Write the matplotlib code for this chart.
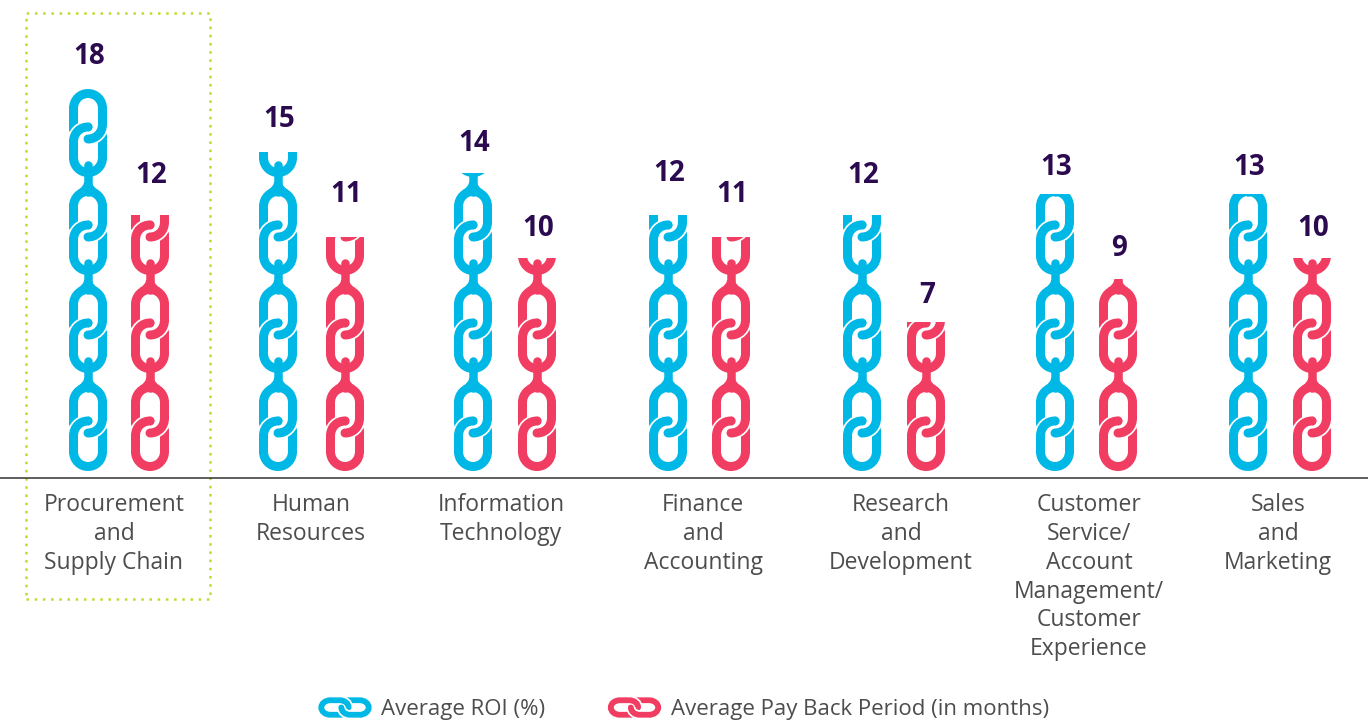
import matplotlib
matplotlib.use('Agg')
import matplotlib.pyplot as plt
import numpy as np
from matplotlib.path import Path
from matplotlib.patches import PathPatch, Rectangle

plt.rcParams['font.family'] = ['Open Sans', 'DejaVu Sans']

categories = ['Procurement\nand\nSupply Chain', 'Human\nResources', 'Information\nTechnology',
              'Finance\nand\nAccounting', 'Research\nand\nDevelopment',
              'Customer\nService/\nAccount\nManagement/\nCustomer\nExperience', 'Sales\nand\nMarketing']
avg_roi = [18, 15, 14, 12, 12, 13, 13]
avg_payback = [12, 11, 10, 11, 7, 9, 10]

BLUE = '#00b8e6'
RED = '#f23d63'
PURPLE = '#2b0a50'
GREY = '#4d4d4d'

# layout, all in pixels of the 1368x720 picture
blue_x = [88, 278, 473, 668, 862, 1055, 1248]
red_x = [150, 345, 537, 731, 926, 1118, 1312]
label_x = [114, 311, 501, 703, 901, 1089, 1278]
blue_gap = [31, 32, 29, 42, 40, 27, 27]
red_gap = [40, 42, 29, 42, 26, 31, 29]
base_px = 471
px_per_unit = 21.3
link_step = 98

# half a link, the other half is the same turned by 180 degrees
half_verts = np.array([(-14.5, -3), (-14.5, -24.5), (-14.5, -33), (-8, -39.5), (0, -39.5),
                       (8, -39.5), (14.5, -33), (14.5, -24.5), (14.5, -9),
                       (14.5, 0), (8, 6), (0, 6)], dtype=float)
half_codes = [Path.MOVETO, Path.LINETO, Path.CURVE4, Path.CURVE4, Path.CURVE4,
              Path.CURVE4, Path.CURVE4, Path.CURVE4, Path.LINETO,
              Path.CURVE4, Path.CURVE4, Path.CURVE4]
hook_verts = half_verts[7:]
hook_codes = [Path.MOVETO] + half_codes[8:]

# the bell where the neck meets the top of the link below
flare_verts = np.array([(-4, -49), (-4, -45), (-10, -41), (10, -41), (4, -45), (4, -49), (-4, -49)], dtype=float)
flare_codes = [Path.MOVETO, Path.CURVE3, Path.CURVE3, Path.LINETO, Path.CURVE3, Path.CURVE3, Path.CLOSEPOLY]


def to_val(py):
    return (base_px - py) / px_per_unit


def stroke(ax, verts, codes, color, lw, clip=None, halo=True, cap='round'):
    if halo:
        under = PathPatch(Path(verts, codes), fill=False, ec='white', lw=(lw + 3.4) * 0.72, capstyle='butt', zorder=3)
        ax.add_patch(under)
        if clip is not None:
            under.set_clip_path(clip)
    p = PathPatch(Path(verts, codes), fill=False, ec=color, lw=lw * 0.72, capstyle=cap, zorder=3)
    ax.add_patch(p)
    if clip is not None:
        p.set_clip_path(clip)


def draw_link(ax, place, color, lw=9, clip=None):
    # place turns local pixel offsets into data coordinates
    stroke(ax, place(-half_verts), half_codes, color, lw, clip)
    stroke(ax, place(half_verts), half_codes, color, lw, clip)
    stroke(ax, place(-hook_verts), hook_codes, color, lw, clip)


def draw_chain(ax, bar, xc, color):
    for i in range(4):
        cy = 44 + link_step * i

        def place(v, cy=cy):
            return np.column_stack([xc + v[:, 0], (cy - v[:, 1]) / px_per_unit])
        draw_link(ax, place, color, clip=bar)
    # necks go on top of every link, the round end sits inside the upper link
    for i in range(3):
        cy = 44 + link_step * i

        def place(v, cy=cy):
            return np.column_stack([xc + v[:, 0], (cy - v[:, 1]) / px_per_unit])
        neck = place(np.array([(0, -39.5), (0, -link_step + 32.0)]))
        stroke(ax, neck, [Path.MOVETO, Path.LINETO], color, 8.5, clip=bar, halo=False)
        bell = PathPatch(Path(place(flare_verts), flare_codes), fc=color, ec='none', zorder=3)
        ax.add_patch(bell)
        bell.set_clip_path(bar)


fig = plt.figure(figsize=(13.68, 7.2), dpi=100)
ax = fig.add_axes([0, 0, 1, 1])
ax.set_xlim(0, 1368)
ax.set_ylim(to_val(720), to_val(0))
ax.axis('off')

for xs, vals, gaps, color in [(blue_x, avg_roi, blue_gap, BLUE), (red_x, avg_payback, red_gap, RED)]:
    bars = ax.bar(xs, vals, width=46, bottom=0, facecolor='none', edgecolor='none')
    for bar, xc, v, gap in zip(bars, xs, vals, gaps):
        draw_chain(ax, bar, xc, color)
        ax.text(xc + 1, v + gap / px_per_unit, str(v), ha='center', va='center', fontsize=20,
                fontweight='bold', color=PURPLE)

# baseline
ax.plot([0, 1368], [to_val(477.5)] * 2, color='#333333', lw=1.1, zorder=2)

for xc, name in zip(label_x, categories):
    ax.text(xc, to_val(493), name, ha='center', va='top', fontsize=16.5, color=GREY, linespacing=1.27)

# dotted highlight round the first group
ax.add_patch(Rectangle((25.5, to_val(599)), 184, (599 - 13) / px_per_unit, fill=False, ec='#c3d92f',
                       lw=1.8, ls=(0, (1, 2.28)), zorder=1))

# legend
for x0, color, name, tx in [(345, BLUE, 'Average ROI (%)', 381), (634.5, RED, 'Average Pay Back Period (in months)', 671)]:
    def place(v, x0=x0):
        return np.column_stack([x0 + v[:, 1] * 0.6, to_val(707.5) + v[:, 0] * 0.5 / px_per_unit])
    draw_link(ax, place, color, lw=5.8)
    ax.text(tx, to_val(709), name, ha='left', va='center', fontsize=16, color=GREY)

fig.savefig('out.png', dpi=100)
